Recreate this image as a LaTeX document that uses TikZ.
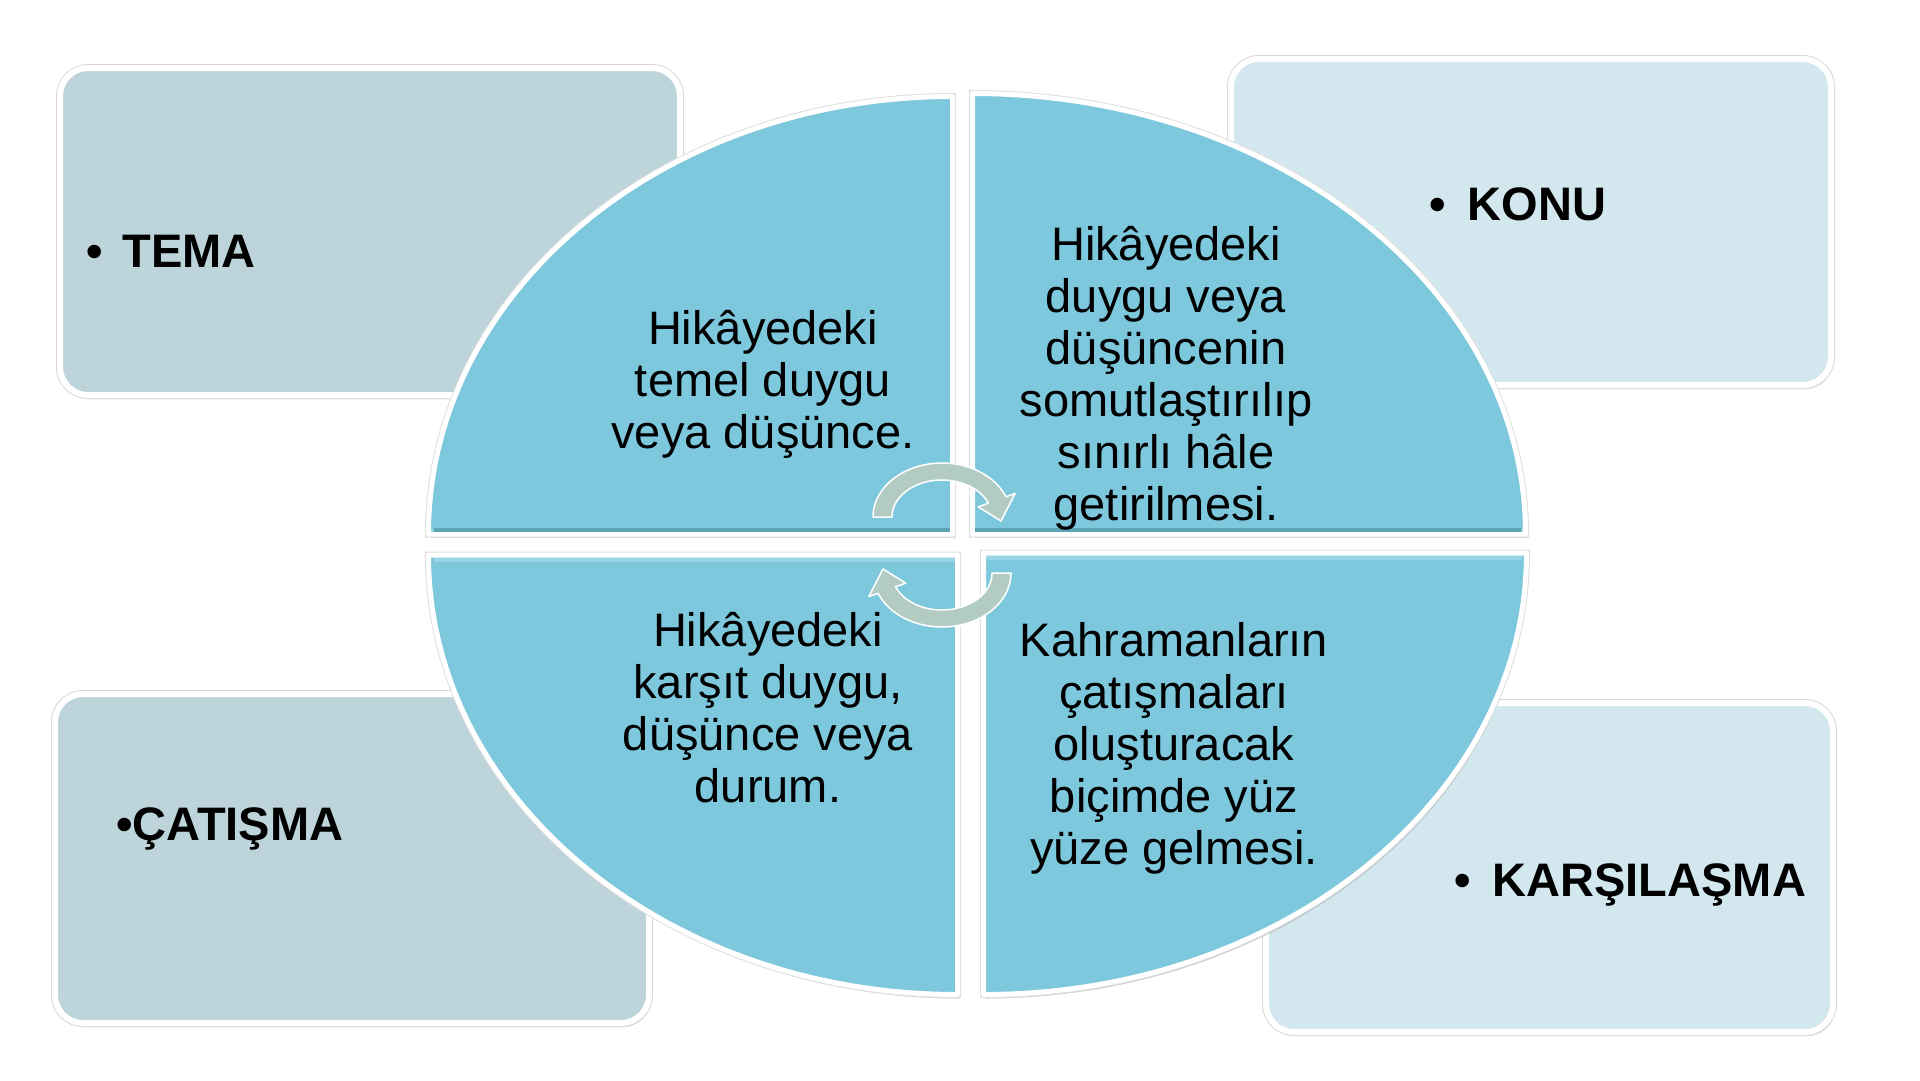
\documentclass[tikz,border=0pt]{standalone}
\usepackage{fontspec}
\setmainfont{Liberation Sans}
\usetikzlibrary{shadows}
\definecolor{quad}{HTML}{7EC8DD}
\definecolor{quaddark}{HTML}{5FA3B6}
\definecolor{quadlight}{HTML}{98D4E5}
\definecolor{boxdark}{HTML}{BDD4DA}
\definecolor{boxlight}{HTML}{D2E7EE}
\definecolor{arrowc}{HTML}{B3CCC3}
\tikzset{
  cardbox/.style={draw=white, line width=6pt, rounded corners=28pt, inner sep=0pt,
    drop shadow={shadow xshift=2pt, shadow yshift=-4pt, opacity=0.3, fill=black!60},
    preaction={draw=black!15, line width=8pt}},
  quadrant/.style={fill=quad, draw=white, line width=5pt, line join=round,
    drop shadow={shadow xshift=2pt, shadow yshift=-4pt, opacity=0.3, fill=black!60},
    preaction={draw=black!12, line width=7pt}},
  qtext/.style={align=center, inner sep=0pt, anchor=base, text=black,
    font={\fontsize{47}{52}\selectfont}},
  lbl/.style={inner sep=0pt, anchor=base west, text=black,
    font={\fontsize{47}{52}\selectfont\bfseries}},
  arrowshape/.style={fill=arrowc, draw=white, line width=1.5pt, line join=round},
}
\begin{document}
\begin{tikzpicture}[x=1pt,y=-1pt]
\useasboundingbox (0,0) rectangle (1920,1080);
\fill[white] (0,0) rectangle (1920,1080);

% corner boxes
\node[cardbox, fill=boxdark, minimum width=620pt, minimum height=327pt] (temabox) at (370,231.5) {};
\node[cardbox, fill=boxlight, minimum width=600pt, minimum height=326pt] (konubox) at (1531,222) {};
\node[cardbox, fill=boxdark, minimum width=594pt, minimum height=329pt] (catbox) at (352,858.5) {};
\node[cardbox, fill=boxlight, minimum width=567pt, minimum height=329pt] (karbox) at (1549.5,867.5) {};

% quadrants
\path[quadrant] (952.5,534) -- ++(-524,0) arc[start angle=180,end angle=270,x radius=524,y radius=437.5] -- cycle;
\path[quadrant] (972.5,534) -- ++(0,-440.5) arc[start angle=270,end angle=360,x radius=553,y radius=440.5] -- cycle;
\path[quadrant] (957.5,555) -- ++(-529,0) arc[start angle=180,end angle=90,x radius=529,y radius=439.5] -- cycle;
\path[quadrant] (983.5,553) -- ++(543,0) arc[start angle=0,end angle=90,x radius=543,y radius=441.5] -- cycle;

% bevel strips
\draw[quaddark, line width=4pt] (434,529.5) -- (950,529.5);
\draw[quaddark, line width=4pt] (975,529.5) -- (1521,529.5);
\draw[quadlight, line width=4pt] (434,559.5) -- (955,559.5);
\draw[quadlight, line width=4pt] (986,557.5) -- (1522,557.5);

% cycle arrows
\coordinate (b1) at (1015.2,493.4);
\coordinate (t1) at (1001,521);
\coordinate (i1) at (978.2,506.9);
\path[arrowshape] plot[domain=180:338,samples=40] ({942+69*cos(\x)},{517+54*sin(\x)})
  -- (b1) -- (t1) -- (i1)
  -- plot[domain=338:180,samples=40] ({942+50*cos(\x)},{517+37*sin(\x)}) -- cycle;
\coordinate (b2) at (868.8,596.6);
\coordinate (t2) at (883,569);
\coordinate (i2) at (905.8,583.1);
\path[arrowshape] plot[domain=0:158,samples=40] ({942+69*cos(\x)},{573+54*sin(\x)})
  -- (b2) -- (t2) -- (i2)
  -- plot[domain=158:0,samples=40] ({942+50*cos(\x)},{573+37*sin(\x)}) -- cycle;

% quadrant texts
\node[qtext] (tq1) at (763,448) {Hikâyedeki\\temel duygu\\veya düşünce.};
\node[qtext] (tq2) at (1166,520) {Hikâyedeki\\duygu veya\\düşüncenin\\somutlaştırılıp\\sınırlı hâle\\getirilmesi.};
\node[qtext] (tq3) at (768,802) {Hikâyedeki\\karşıt duygu,\\düşünce veya\\durum.};
\node[qtext] (tq4) at (1174,864) {Kahramanların\\çatışmaları\\oluşturacak\\biçimde yüz\\yüze gelmesi.};

% labels
\node[lbl] (tema) at (86,267) {•\hspace{20pt}TEMA};
\node[lbl] (konu) at (1429,220) {•\hspace{22pt}KONU};
\node[lbl] (catisma) at (116,840) {•ÇATIŞMA};
\node[lbl] (karsilasma) at (1454,896) {•\hspace{22pt}KARŞILAŞMA};
\end{tikzpicture}
\end{document}
